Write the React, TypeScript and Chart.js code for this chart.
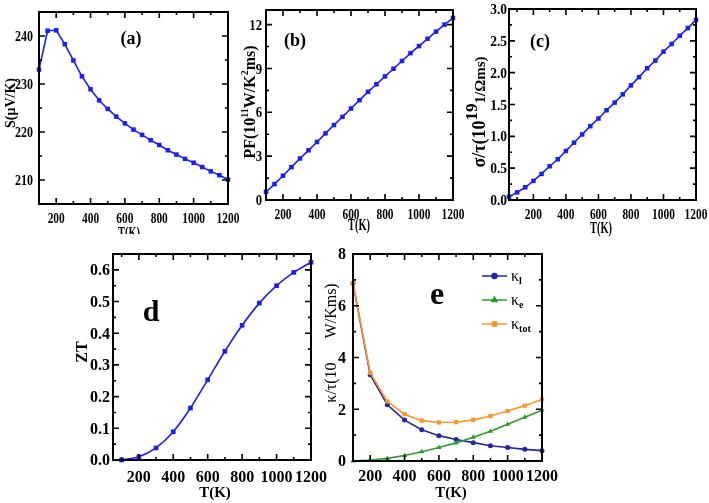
import React, { useEffect, useRef } from 'react';
import { Chart, registerables } from 'chart.js';
import { drawPoint } from 'chart.js/helpers';
Chart.register(...registerables);

const FONT = "'Liberation Serif', 'Times New Roman', serif";

// ---------- data ----------
const temps50 = [100, 150, 200, 250, 300, 350, 400, 450, 500, 550, 600, 650, 700, 750, 800, 850, 900, 950, 1000, 1050, 1100, 1150, 1200];
const seebeck = [233.0, 241.1, 241.2, 238.3, 234.9, 231.6, 228.9, 226.6, 224.8, 223.2, 221.8, 220.5, 219.4, 218.3, 217.3, 216.2, 215.3, 214.4, 213.6, 212.7, 211.8, 211.0, 210.1];
const powerFactor = [0.55, 1.09, 1.66, 2.25, 2.84, 3.40, 3.97, 4.56, 5.13, 5.69, 6.26, 6.83, 7.40, 7.92, 8.46, 8.98, 9.51, 10.05, 10.53, 11.03, 11.52, 12.0, 12.45];
const tempsC = [50, 100, 150, 200, 250, 300, 350, 400, 450, 500, 550, 600, 650, 700, 750, 800, 850, 900, 950, 1000, 1050, 1100, 1150, 1200];
const sigmaTau = [0.05, 0.12, 0.20, 0.30, 0.41, 0.53, 0.64, 0.77, 0.90, 1.03, 1.16, 1.28, 1.41, 1.53, 1.66, 1.80, 1.93, 2.07, 2.19, 2.33, 2.45, 2.58, 2.70, 2.83];
const temps100 = [100, 200, 300, 400, 500, 600, 700, 800, 900, 1000, 1100, 1200];
const ztValues = [0.0, 0.010, 0.038, 0.089, 0.164, 0.253, 0.343, 0.425, 0.495, 0.550, 0.592, 0.624];
const kappaL = [6.87, 3.33, 2.17, 1.58, 1.21, 0.98, 0.83, 0.71, 0.59, 0.52, 0.45, 0.40];
const kappaE = [0.0, 0.04, 0.10, 0.21, 0.36, 0.52, 0.70, 0.92, 1.15, 1.42, 1.69, 1.96];
const kappaTot = [6.87, 3.41, 2.30, 1.81, 1.56, 1.49, 1.50, 1.59, 1.74, 1.93, 2.14, 2.38];

// ---------- ticks ----------
const xMajorTicks = [200, 400, 600, 800, 1000, 1200];
const xMajorLabels = ['200', '400', '600', '800', '1000', '1200'];
const xMinorTicks = [100, 300, 500, 700, 900, 1100];
const sTicks = [210, 220, 230, 240];
const sTickLabels = ['210', '220', '230', '240'];
const sMinor = [215, 225, 235];
const pfTicks = [0, 3, 6, 9, 12];
const pfTickLabels = ['0', '3', '6', '9', '12'];
const pfMinor = [1.5, 4.5, 7.5, 10.5];
const sigmaTicks = [0, 0.5, 1.0, 1.5, 2.0, 2.5, 3.0];
const sigmaTickLabels = ['0.0', '0.5', '1.0', '1.5', '2.0', '2.5', '3.0'];
const sigmaMinor = [0.25, 0.75, 1.25, 1.75, 2.25, 2.75];
const ztTicks = [0, 0.1, 0.2, 0.3, 0.4, 0.5, 0.6];
const ztTickLabels = ['0.0', '0.1', '0.2', '0.3', '0.4', '0.5', '0.6'];
const ztMinor = [0.05, 0.15, 0.25, 0.35, 0.45, 0.55];
const kTicks = [0, 2, 4, 6, 8];
const kTickLabels = ['0', '2', '4', '6', '8'];
const kMinor = [1, 3, 5, 7];

const BLUE = '#1c1cf5';
const KL = '#2424a8';
const KE = '#2e9a2e';
const KT = '#f7962a';

type Seg = { t: string; size: number; dy?: number; w?: string };

function drawRich(ctx: CanvasRenderingContext2D, segs: Seg[], x: number, y: number, rot: number, sx: number, align: string) {
  ctx.save();
  ctx.translate(x, y);
  ctx.scale(sx, 1);
  ctx.rotate(rot);
  const ws = segs.map((s) => {
    ctx.font = `${s.w || 'bold'} ${s.size}px ${FONT}`;
    return ctx.measureText(s.t).width;
  });
  const total = ws.reduce((a, b) => a + b, 0);
  let cx = align === 'center' ? -total / 2 : align === 'right' ? -total : 0;
  const base = segs[0].size * 0.34;
  ctx.textAlign = 'left';
  ctx.textBaseline = 'alphabetic';
  segs.forEach((s, i) => {
    ctx.font = `${s.w || 'bold'} ${s.size}px ${FONT}`;
    ctx.fillText(s.t, cx, base + (s.dy || 0));
    cx += ws[i];
  });
  ctx.restore();
}

interface PanelCfg {
  area: number[];
  xRange: number[];
  yRange: number[];
  datasets: any[];
  yMajor: number[];
  yLabels: string[];
  yMinor: number[];
  tickFont: number;
  xsx: number;
  ysx: number;
  xLabelY: number;
  yLabelRight: number;
  xTitle: { segs: Seg[]; x: number; y: number; sx: number; clip?: number };
  yTitle: { segs: Seg[]; x: number; y: number };
  tag: { segs: Seg[]; x: number; y: number };
  legend?: { segs: Seg[]; color: string; style: string; radius: number; y: number }[];
}

function makeDecor(cfg: PanelCfg) {
  return {
    id: 'decor',
    afterDraw(chart: any) {
      const ctx: CanvasRenderingContext2D = chart.ctx;
      const ca = chart.chartArea;
      const xs = chart.scales.x;
      const ys = chart.scales.y;
      ctx.save();
      ctx.strokeStyle = '#000';
      ctx.fillStyle = '#000';
      ctx.lineWidth = 1.6;
      const xt = (vals: number[], len: number) => {
        vals.forEach((v) => {
          const p = xs.getPixelForValue(v);
          if (p < ca.left - 0.5 || p > ca.right + 0.5) return;
          ctx.beginPath();
          ctx.moveTo(p, ca.bottom);
          ctx.lineTo(p, ca.bottom - len);
          ctx.moveTo(p, ca.top);
          ctx.lineTo(p, ca.top + len);
          ctx.stroke();
        });
      };
      const yt = (vals: number[], len: number) => {
        vals.forEach((v) => {
          const p = ys.getPixelForValue(v);
          if (p < ca.top - 0.5 || p > ca.bottom + 0.5) return;
          ctx.beginPath();
          ctx.moveTo(ca.left, p);
          ctx.lineTo(ca.left + len, p);
          ctx.moveTo(ca.right, p);
          ctx.lineTo(ca.right - len, p);
          ctx.stroke();
        });
      };
      xt(xMajorTicks, 6);
      xt(xMinorTicks, 3);
      yt(cfg.yMajor, 6);
      yt(cfg.yMinor, 3);
      ctx.lineWidth = 2;
      ctx.strokeRect(ca.left, ca.top, ca.right - ca.left, ca.bottom - ca.top);

      xMajorTicks.forEach((v, i) => {
        drawRich(ctx, [{ t: xMajorLabels[i], size: cfg.tickFont }], xs.getPixelForValue(v), cfg.xLabelY, 0, cfg.xsx, 'center');
      });
      cfg.yMajor.forEach((v, i) => {
        drawRich(ctx, [{ t: cfg.yLabels[i], size: cfg.tickFont }], cfg.yLabelRight, ys.getPixelForValue(v), 0, cfg.ysx, 'right');
      });

      const xtit = cfg.xTitle;
      ctx.save();
      if (xtit.clip) {
        ctx.beginPath();
        ctx.rect(0, 0, 709, xtit.clip);
        ctx.clip();
      }
      drawRich(ctx, xtit.segs, xtit.x, xtit.y, 0, xtit.sx, 'center');
      ctx.restore();
      drawRich(ctx, cfg.yTitle.segs, cfg.yTitle.x, cfg.yTitle.y, -Math.PI / 2, 1, 'center');
      drawRich(ctx, cfg.tag.segs, cfg.tag.x, cfg.tag.y, 0, 1, 'center');

      if (cfg.legend) {
        cfg.legend.forEach((e) => {
          ctx.strokeStyle = e.color;
          ctx.fillStyle = e.color;
          ctx.lineWidth = 1.5;
          ctx.beginPath();
          ctx.moveTo(482, e.y);
          ctx.lineTo(507, e.y);
          ctx.stroke();
          drawPoint(ctx, { pointStyle: e.style, radius: e.radius, rotation: 0, borderWidth: 1 } as any, 494.5, e.y);
          ctx.fillStyle = '#000';
          drawRich(ctx, e.segs, 511, e.y, 0, 1, 'left');
        });
      }
      ctx.restore();
    },
  };
}

function series(xs: number[], ys: number[], color: string, style: string, radius: number, extra: any = {}) {
  return {
    data: xs.map((x, i) => ({ x, y: ys[i] })),
    borderColor: color,
    backgroundColor: color,
    borderWidth: 1.6,
    pointStyle: style,
    pointRadius: radius,
    pointBorderWidth: 0,
    pointBackgroundColor: color,
    tension: 0,
    clip: false,
    ...extra,
  };
}

const topTickFont = 15;
const botTickFont = 16;

const panels: PanelCfg[] = [
  {
    area: [39, 12, 228, 204],
    xRange: [100, 1200],
    yRange: [205, 245],
    datasets: [series(temps50, seebeck, BLUE, 'rect', 3.2)],
    yMajor: sTicks,
    yLabels: sTickLabels,
    yMinor: sMinor,
    tickFont: topTickFont,
    xsx: 0.76,
    ysx: 0.8,
    xLabelY: 218,
    yLabelRight: 33,
    xTitle: { segs: [{ t: 'T(K)', size: 16 }], x: 129, y: 233, sx: 0.65, clip: 234 },
    yTitle: { segs: [{ t: 'S(\u03bcV/K)', size: 14 }], x: 10, y: 103 },
    tag: { segs: [{ t: '(a)', size: 18 }], x: 131, y: 38 },
  },
  {
    area: [266, 10, 453, 200],
    xRange: [100, 1200],
    yRange: [0, 13],
    datasets: [series(temps50, powerFactor, BLUE, 'rect', 3.2)],
    yMajor: pfTicks,
    yLabels: pfTickLabels,
    yMinor: pfMinor,
    tickFont: topTickFont,
    xsx: 0.76,
    ysx: 0.85,
    xLabelY: 214,
    yLabelRight: 262,
    xTitle: { segs: [{ t: 'T(K)', size: 16 }], x: 359, y: 225, sx: 0.65 },
    yTitle: {
      segs: [
        { t: 'PF(10', size: 16 },
        { t: '11', size: 10, dy: -7 },
        { t: 'W/K', size: 16 },
        { t: '2', size: 10, dy: -7 },
        { t: 'ms)', size: 16 },
      ],
      x: 250,
      y: 102,
    },
    tag: { segs: [{ t: '(b)', size: 18 }], x: 295, y: 40 },
  },
  {
    area: [509, 9, 696, 200],
    xRange: [50, 1200],
    yRange: [0, 3],
    datasets: [series(tempsC, sigmaTau, BLUE, 'rect', 3.2)],
    yMajor: sigmaTicks,
    yLabels: sigmaTickLabels,
    yMinor: sigmaMinor,
    tickFont: topTickFont,
    xsx: 0.76,
    ysx: 0.9,
    xLabelY: 214,
    yLabelRight: 507,
    xTitle: { segs: [{ t: 'T(K)', size: 16 }], x: 601, y: 228, sx: 0.65 },
    yTitle: {
      segs: [
        { t: '\u03c3/\u03c4(10', size: 18 },
        { t: '19', size: 17, dy: -8 },
        { t: '1/\u03a9ms)', size: 15 },
      ],
      x: 479,
      y: 112,
    },
    tag: { segs: [{ t: '(c)', size: 18 }], x: 540, y: 41 },
  },
  {
    area: [113, 254, 311, 460],
    xRange: [50, 1200],
    yRange: [0, 0.65],
    datasets: [series(temps100, ztValues, BLUE, 'rect', 3.3, { cubicInterpolationMode: 'monotone' })],
    yMajor: ztTicks,
    yLabels: ztTickLabels,
    yMinor: ztMinor,
    tickFont: botTickFont,
    xsx: 1,
    ysx: 1,
    xLabelY: 477,
    yLabelRight: 110,
    xTitle: { segs: [{ t: 'T(K)', size: 15 }], x: 215, y: 492, sx: 1 },
    yTitle: { segs: [{ t: 'ZT', size: 16 }], x: 82, y: 352 },
    tag: { segs: [{ t: 'd', size: 30 }], x: 151, y: 311 },
  },
  {
    area: [353, 254, 542, 461],
    xRange: [100, 1200],
    yRange: [0, 8],
    datasets: [
      series(temps100, kappaTot, KT, 'rect', 3),
      series(temps100, kappaE, KE, 'triangle', 3),
      series(temps100, kappaL, KL, 'circle', 2.5),
    ],
    yMajor: kTicks,
    yLabels: kTickLabels,
    yMinor: kMinor,
    tickFont: botTickFont,
    xsx: 1,
    ysx: 1,
    xLabelY: 476,
    yLabelRight: 346,
    xTitle: { segs: [{ t: 'T(K)', size: 15 }], x: 451, y: 492, sx: 1 },
    yTitle: {
      segs: [
        { t: '\u03ba/\u03c4(10', size: 16, w: 'normal' },
        { t: '      ', size: 16, w: 'normal' },
        { t: 'W/Kms)', size: 16, w: 'normal' },
      ],
      x: 331,
      y: 343,
    },
    tag: { segs: [{ t: 'e', size: 32 }], x: 437, y: 293 },
    legend: [
      { segs: [{ t: '\u03ba', size: 16, w: 'normal' }, { t: 'l', size: 10, dy: 3 }], color: KL, style: 'circle', radius: 2.5, y: 276 },
      { segs: [{ t: '\u03ba', size: 16, w: 'normal' }, { t: 'e', size: 10, dy: 3 }], color: KE, style: 'triangle', radius: 3, y: 300 },
      { segs: [{ t: '\u03ba', size: 16, w: 'normal' }, { t: 'tot', size: 10, dy: 3 }], color: KT, style: 'rect', radius: 3, y: 324 },
    ],
  },
];

function Panel({ cfg }: { cfg: PanelCfg }) {
  const ref = useRef<HTMLCanvasElement | null>(null);
  useEffect(() => {
    if (!ref.current) return;
    const [l, t, r, b] = cfg.area;
    const chart = new Chart(ref.current, {
      type: 'line',
      data: { datasets: cfg.datasets },
      options: {
        responsive: false,
        maintainAspectRatio: false,
        animation: false,
        events: [],
        layout: { padding: { left: l, top: t, right: 709 - r, bottom: 503 - b } },
        scales: {
          x: { type: 'linear', min: cfg.xRange[0], max: cfg.xRange[1], display: false },
          y: { type: 'linear', min: cfg.yRange[0], max: cfg.yRange[1], display: false },
        },
        plugins: { legend: { display: false }, tooltip: { enabled: false } },
      } as any,
      plugins: [makeDecor(cfg)],
    });
    return () => chart.destroy();
  }, []);
  return <canvas ref={ref} width={709} height={503} style={{ position: 'absolute', left: 0, top: 0 }} />;
}

export default function App() {
  return (
    <div style={{ position: 'fixed', left: 0, top: 0, width: 709, height: 503, background: '#fff', overflow: 'hidden' }}>
      {panels.map((p, i) => (
        <Panel key={i} cfg={p} />
      ))}
    </div>
  );
}
